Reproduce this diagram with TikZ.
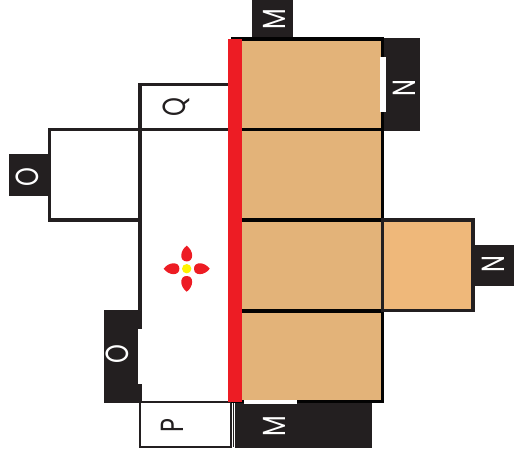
\documentclass[tikz,border=0pt]{standalone}
\usepackage{fontspec}
\setmainfont{Poppins}
\tikzset{%
  panel/.style={draw=linecol,line width=2.3pt,fill=white},
  tanpanel/.style={draw=black!90!linecol,line width=2.3pt,fill=tanmain},
  tabbox/.style={fill=linecol},
  tablabel/.style={text=white,rotate=90,xscale=0.75,transform shape,inner sep=0pt,font=\fontsize{24}{24}\selectfont},
  boxlabel/.style={text=linecol,rotate=90,xscale=0.75,transform shape,inner sep=0pt,font=\fontsize{24}{24}\selectfont},
}
\definecolor{linecol}{HTML}{231F20}
\definecolor{tanmain}{HTML}{E3B379}
\definecolor{tanside}{HTML}{EFB87A}
\definecolor{redbar}{HTML}{ED1C24}
\definecolor{dotcol}{HTML}{FFF200}
\begin{document}
\begin{tikzpicture}[x=0.75pt,y=-0.75pt]
  \useasboundingbox (0,0) rectangle (514,461);
  % black tabs
  \fill[tabbox] (252,0) rectangle (293,39);
  \fill[tabbox] (381,37.5) rectangle (419.5,131);
  \fill[tabbox] (472,245) rectangle (514,286);
  \fill[tabbox] (9,154) rectangle (50,195.5);
  \fill[tabbox] (103.5,309.5) rectangle (142,403);
  \fill[tabbox] (235,401) rectangle (371.5,448);
  % white panels
  \draw[panel] (140,84.5) rectangle (230,129.5);
  \draw[panel] (49.5,129.5) rectangle (140,220);
  \draw[panel] (140,129.5) -- (140,310);
  \draw[draw=linecol,line width=1.7pt] (140,402) rectangle (231,447);
  \draw[draw=linecol,line width=0.8pt] (233.5,402) -- (233.5,447);
  % tan panels
  \foreach \y/\yy in {39/129.5,129.5/220,220/311,311/401.5} {
    \draw[tanpanel] (231,\y) -- (382.5,\y) -- (382.5,\yy) -- (231,\yy);
    \fill[tanmain] (242,\y+1.5) rectangle (381,\yy-1.5);
  }
  \draw[panel,fill=tanside] (382.5,220) rectangle (473,310.5);
  % white slits
  \fill[white] (380,56.5) rectangle (385.5,111.5);
  \fill[white] (137.5,329) rectangle (143,384);
  \fill[white] (244,400) rectangle (297,404);
  % red bar
  \fill[redbar] (228,39) rectangle (242,402);
  % flower
  \foreach \a in {0,90,180,270} {
    \fill[redbar,shift={(186.7,268.7)},rotate=\a]
      (7.3,0) .. controls (7.3,-7.5) and (18,-7) .. (23,0)
      .. controls (18,7) and (7.3,7.5) .. (7.3,0) -- cycle;
  }
  \fill[dotcol] (186.7,268.7) circle[radius=4.7];
  % labels
  \node[tablabel] (mtop) at (274,19) {M};
  \node[tablabel] (mbot) at (274,426) {M};
  \node[tablabel] (ntop) at (404,88) {N};
  \node[tablabel] (nside) at (493.5,264.5) {N};
  \node[tablabel] (oleft) at (27,177.5) {O};
  \node[tablabel] (olow) at (117.5,354) {O};
  \node[boxlabel] (qbox) at (176,107) {Q};
  \node[boxlabel] (pbox) at (172,426) {P};
\end{tikzpicture}
\end{document}
